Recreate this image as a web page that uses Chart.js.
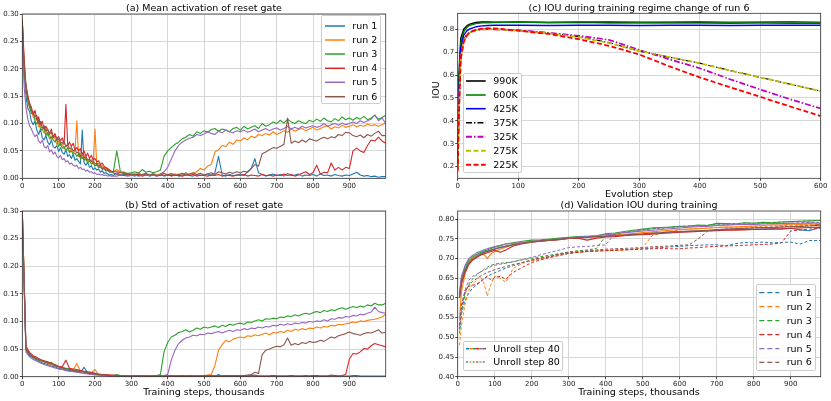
<!DOCTYPE html>
<html><head><meta charset="utf-8">
<script src="https://cdn.jsdelivr.net/npm/chart.js"></script>
<style>
body{margin:0;background:#fff;width:831px;height:401px;overflow:hidden;position:relative;font-family:'DejaVu Sans',sans-serif;color:#000}
.pane{position:absolute}
.pane canvas{display:block}
.t{position:absolute;white-space:nowrap;font-size:9.5px;line-height:1;transform:translate(-50%,-50%)}
.leg{position:absolute;background:rgba(255,255,255,0.85);border:1px solid #cccccc;border-radius:2px;box-sizing:border-box}
.lt{position:absolute;font-size:9.5px;line-height:1;white-space:nowrap;transform:translateY(-50%)}
#hs{position:absolute;left:0;top:0;pointer-events:none}
</style></head><body>
<div class="pane" style="left:0;top:0"><canvas id="ca"></canvas></div>
<div class="pane" style="left:410px;top:0"><canvas id="cc"></canvas></div>
<div class="pane" style="left:0;top:200px"><canvas id="cb"></canvas></div>
<div class="pane" style="left:410px;top:200px"><canvas id="cd"></canvas></div>

<div class="t" style="left:204px;top:7.5px">(a) Mean activation of reset gate</div>
<div class="t" style="left:639px;top:7.5px">(c) IOU during training regime change of run 6</div>
<div class="t" style="left:204px;top:205px">(b) Std of activation of reset gate</div>
<div class="t" style="left:639px;top:205px">(d) Validation IOU during training</div>
<div class="t" style="left:639px;top:194.3px">Evolution step</div>
<div class="t" style="left:435.7px;top:90px;transform:translate(-50%,-50%) rotate(-90deg)">IOU</div>
<div class="t" style="left:204px;top:392.3px">Training steps, thousands</div>
<div class="t" style="left:639px;top:391.7px">Training steps, thousands</div>
<div id="legs"></div>
<svg id="hs" width="831" height="401"></svg>

<script>
// ---------- data ----------
const RUNS = ['run 1','run 2','run 3','run 4','run 5','run 6'];

// (a) mean activation of reset gate (5k spacing up to 250k, then 10k)
const MEAN_STEPS = [0,5,10,15,20,25,30,35,40,45,50,55,60,65,70,75,80,85,90,95,100,105,110,115,120,125,130,135,140,145,150,155,160,165,170,175,180,185,190,195,200,205,210,215,220,225,230,235,240,245,250,
 260,270,280,290,300,310,320,330,340,350,360,370,380,390,400,410,420,430,440,450,460,470,480,490,500,510,520,530,540,550,560,570,580,590,600,610,620,630,640,650,660,670,680,690,700,710,720,730,740,750,760,770,780,790,800,810,820,830,840,850,860,870,880,890,900,910,920,930,940,950,960,970,980,990,1000];
const meanRun1 = [0.290,0.190,0.152,0.128,0.122,0.104,0.098,0.104,0.088,0.080, 0.090,0.074,0.070,0.078,0.066,0.061,0.070,0.058,0.055,0.060, 0.049,0.056,0.047,0.044,0.052,0.040,0.043,0.036,0.044,0.033, 0.036,0.031,0.026,0.088,0.028,0.024,0.029,0.020,0.023,0.016, 0.019,0.015,0.017,0.011,0.014,0.009,0.010,0.008,0.006,0.007, 0.005,
 0.010,0.006,0.007,0.005, 0.006,0.004,0.007,0.005,0.008,0.004,0.006,0.005,0.007,0.004, 0.006,0.005,0.008,0.004,0.006,0.010,0.005,0.004,0.007,0.005, 0.006,0.008,0.005,0.010,0.040,0.006,0.004,0.007,0.005,0.006, 0.008,0.005,0.012,0.018,0.036,0.010,0.007,0.004,0.006,0.008, 0.005,0.007,0.004,0.009,0.005,0.006,0.008,0.004,0.006,0.005, 0.007,0.004,0.008,0.005,0.006,0.004,0.007,0.005,0.004,0.006, 0.005,0.008,0.011,0.006,0.004,0.005,0.003,0.004,0.002,0.003, 0.003];
const meanRun2 = [0.285,0.212,0.162,0.150,0.128,0.126,0.112,0.108,0.110,0.094, 0.096,0.090,0.082,0.091,0.078,0.080,0.070,0.076,0.072,0.062, 0.068,0.060,0.064,0.054,0.060,0.056,0.048,0.054,0.046,0.050, 0.105,0.040,0.046,0.036,0.042,0.033,0.035,0.031,0.034,0.026, 0.090,0.024,0.028,0.020,0.024,0.017,0.020,0.014,0.016,0.011, 0.012,
 0.016,0.011,0.012,0.008, 0.009,0.007,0.010,0.006,0.008,0.005,0.009,0.006,0.008,0.005, 0.007,0.009,0.006,0.008,0.005,0.010,0.007,0.009,0.012,0.018, 0.015,0.022,0.025,0.048,0.052,0.060,0.058,0.066,0.062,0.070, 0.068,0.074,0.070,0.077,0.074,0.080,0.078,0.082,0.079,0.085, 0.080,0.083,0.087,0.084,0.090,0.086,0.089,0.091,0.087,0.090, 0.093,0.088,0.091,0.094,0.096,0.090,0.094,0.092,0.097,0.093, 0.095,0.098,0.094,0.097,0.095,0.099,0.096,0.098,0.095,0.098, 0.101];
const meanRun3 = [0.288,0.198,0.168,0.140,0.130,0.118,0.122,0.104,0.099,0.108, 0.090,0.088,0.093,0.078,0.084,0.072,0.076,0.070,0.066,0.072, 0.058,0.064,0.055,0.058,0.050,0.056,0.047,0.050,0.044,0.046, 0.040,0.044,0.036,0.038,0.033,0.036,0.028,0.032,0.026,0.028, 0.022,0.026,0.019,0.021,0.016,0.018,0.013,0.015,0.011,0.012, 0.010,
 0.050,0.012,0.010,0.009, 0.010,0.012,0.009,0.016,0.011,0.013,0.010,0.012,0.015,0.040, 0.050,0.056,0.062,0.066,0.072,0.075,0.080,0.077,0.085,0.082, 0.087,0.084,0.089,0.091,0.086,0.090,0.088,0.085,0.091,0.093, 0.088,0.095,0.090,0.093,0.096,0.091,0.100,0.095,0.098,0.103, 0.100,0.106,0.101,0.108,0.103,0.100,0.105,0.102,0.100,0.106, 0.103,0.108,0.104,0.110,0.105,0.103,0.109,0.105,0.112,0.107, 0.110,0.106,0.111,0.108,0.113,0.107,0.110,0.115,0.108,0.111, 0.115];
const meanRun4 = [0.290,0.220,0.170,0.152,0.136,0.130,0.116,0.124,0.106,0.112, 0.098,0.104,0.090,0.095,0.088,0.082,0.090,0.075,0.082,0.072, 0.076,0.068,0.074,0.062,0.135,0.060,0.066,0.058,0.064,0.052, 0.056,0.050,0.054,0.044,0.050,0.040,0.046,0.036,0.042,0.034, 0.036,0.030,0.032,0.025,0.028,0.022,0.020,0.018,0.015,0.013, 0.012,
 0.012,0.010,0.009,0.007, 0.006,0.005,0.007,0.004,0.006,0.005,0.007,0.004,0.006,0.005, 0.007,0.004,0.006,0.005,0.004,0.006,0.005,0.007,0.004,0.006, 0.005,0.004,0.006,0.005,0.007,0.004,0.006,0.005,0.004,0.006, 0.005,0.007,0.004,0.006,0.005,0.004,0.007,0.005,0.006,0.004, 0.006,0.005,0.008,0.005,0.007,0.004,0.006,0.009,0.012,0.007, 0.010,0.024,0.008,0.011,0.010,0.028,0.015,0.020,0.015,0.020, 0.018,0.050,0.055,0.050,0.047,0.060,0.070,0.068,0.075,0.068, 0.064];
const meanRun5 = [0.250,0.168,0.130,0.108,0.096,0.090,0.082,0.076,0.080,0.068, 0.064,0.070,0.058,0.055,0.060,0.048,0.052,0.044,0.048,0.040, 0.037,0.042,0.034,0.036,0.030,0.032,0.026,0.028,0.024,0.022, 0.024,0.018,0.020,0.016,0.017,0.013,0.015,0.011,0.012,0.009, 0.010,0.007,0.008,0.006,0.007,0.005,0.006,0.004,0.005,0.004, 0.004,
 0.004,0.006,0.005,0.004, 0.005,0.006,0.004,0.005,0.007,0.005,0.006,0.004,0.008,0.012, 0.020,0.035,0.050,0.060,0.066,0.070,0.073,0.075,0.080,0.078, 0.081,0.085,0.082,0.080,0.086,0.083,0.088,0.085,0.083,0.087, 0.085,0.088,0.084,0.087,0.090,0.085,0.088,0.091,0.087,0.090, 0.092,0.088,0.091,0.095,0.090,0.093,0.090,0.095,0.092,0.094, 0.096,0.093,0.095,0.100,0.095,0.098,0.100,0.097,0.101,0.098, 0.100,0.103,0.100,0.105,0.102,0.105,0.108,0.116,0.105,0.110, 0.100];
const meanRun6 = [0.280,0.206,0.170,0.146,0.138,0.124,0.120,0.112,0.115,0.100, 0.104,0.092,0.096,0.086,0.090,0.080,0.084,0.074,0.078,0.070, 0.072,0.066,0.064,0.068,0.058,0.062,0.054,0.056,0.050,0.052, 0.046,0.048,0.040,0.043,0.037,0.040,0.033,0.035,0.030,0.032, 0.026,0.028,0.022,0.024,0.018,0.020,0.015,0.016,0.012,0.013, 0.010,
 0.007,0.006,0.005,0.008, 0.006,0.008,0.005,0.007,0.009,0.006,0.008,0.005,0.007,0.009, 0.006,0.008,0.005,0.007,0.009,0.006,0.008,0.010,0.007,0.009, 0.006,0.008,0.010,0.007,0.012,0.010,0.008,0.011,0.009,0.012, 0.010,0.013,0.011,0.018,0.025,0.022,0.045,0.048,0.052,0.056, 0.055,0.058,0.062,0.110,0.064,0.068,0.065,0.070,0.066,0.072, 0.070,0.068,0.072,0.075,0.072,0.076,0.074,0.080,0.078,0.084, 0.083,0.078,0.076,0.079,0.074,0.080,0.077,0.082,0.086,0.078, 0.078];

// (b) std of activation of reset gate (10k spacing)
const STD_STEPS = [0,10,20,30,40,50,60,70,80,90,100,110,120,130,140,150,160,170,180,190,200,210,220,230,240,250,260,270,280,290,300,310,320,330,340,350,360,370,380,390,400,410,420,430,440,450,460,470,480,490,500,510,520,530,540,550,560,570,580,590,600,610,620,630,640,650,660,670,680,690,700,710,720,730,740,750,760,770,780,790,800,810,820,830,840,850,860,870,880,890,900,910,920,930,940,950,960,970,980,990,1000];
const stdRun1 = [0.275,0.048,0.038,0.034,0.030,0.026,0.024,0.022,0.019,0.018, 0.015,0.014,0.012,0.011,0.010,0.009,0.008,0.017,0.006,0.005, 0.004,0.003,0.003,0.002,0.002,0.002,0.001,0.001,0.001,0.001, 0.001,0.001,0.002,0.001,0.001,0.001,0.002,0.001,0.001,0.001, 0.001,0.002,0.001,0.001,0.001,0.001,0.002,0.001,0.001,0.001, 0.001,0.001,0.002,0.001,0.004,0.001,0.001,0.001,0.002,0.001, 0.001,0.001,0.001,0.002,0.003,0.001,0.001,0.001,0.001,0.002, 0.001,0.001,0.001,0.001,0.002,0.001,0.001,0.001,0.001,0.001, 0.002,0.001,0.001,0.001,0.001,0.001,0.002,0.001,0.001,0.001, 0.001,0.002,0.002,0.001,0.001,0.001,0.001,0.001,0.001,0.001, 0.001];
const stdRun2 = [0.300,0.052,0.042,0.036,0.032,0.029,0.026,0.024,0.021,0.020, 0.017,0.016,0.015,0.013,0.012,0.024,0.010,0.009,0.008,0.007, 0.013,0.004,0.004,0.003,0.003,0.002,0.002,0.002,0.001,0.001, 0.001,0.001,0.002,0.001,0.001,0.001,0.001,0.002,0.001,0.001, 0.001,0.001,0.001,0.002,0.001,0.001,0.001,0.001,0.002,0.001, 0.002,0.003,0.004,0.020,0.048,0.058,0.066,0.063,0.068,0.070, 0.072,0.070,0.074,0.073,0.076,0.074,0.077,0.079,0.076,0.080, 0.079,0.082,0.080,0.084,0.082,0.086,0.084,0.087,0.085,0.088, 0.087,0.090,0.088,0.091,0.090,0.093,0.092,0.095,0.094,0.096, 0.097,0.099,0.098,0.101,0.100,0.102,0.103,0.104,0.106,0.108, 0.113];
const stdRun3 = [0.300,0.050,0.040,0.036,0.031,0.029,0.027,0.025,0.026,0.020, 0.018,0.017,0.015,0.014,0.012,0.011,0.010,0.009,0.007,0.006, 0.005,0.004,0.003,0.003,0.002,0.002,0.004,0.002,0.001,0.001, 0.001,0.002,0.001,0.001,0.002,0.001,0.001,0.002,0.004,0.045, 0.062,0.072,0.075,0.080,0.082,0.085,0.081,0.084,0.088,0.086, 0.090,0.088,0.090,0.092,0.089,0.093,0.091,0.095,0.093,0.096, 0.097,0.095,0.099,0.098,0.101,0.103,0.101,0.105,0.104,0.106, 0.105,0.108,0.107,0.110,0.109,0.112,0.110,0.113,0.115,0.113, 0.116,0.118,0.116,0.120,0.118,0.121,0.120,0.123,0.125,0.122, 0.125,0.127,0.125,0.128,0.126,0.130,0.128,0.133,0.130,0.130, 0.133];
const stdRun4 = [0.300,0.055,0.044,0.038,0.035,0.031,0.029,0.027,0.024,0.022, 0.019,0.018,0.030,0.015,0.014,0.013,0.011,0.010,0.009,0.008, 0.006,0.005,0.004,0.004,0.003,0.003,0.002,0.002,0.002,0.001, 0.001,0.001,0.001,0.002,0.001,0.001,0.001,0.001,0.002,0.001, 0.001,0.001,0.001,0.001,0.002,0.001,0.001,0.001,0.001,0.001, 0.002,0.001,0.001,0.001,0.001,0.001,0.002,0.001,0.001,0.001, 0.001,0.001,0.001,0.002,0.001,0.001,0.001,0.001,0.001,0.002, 0.001,0.001,0.001,0.001,0.002,0.001,0.001,0.001,0.002,0.001, 0.001,0.002,0.001,0.001,0.001,0.003,0.002,0.001,0.002,0.004, 0.032,0.042,0.041,0.045,0.051,0.050,0.056,0.060,0.058,0.056, 0.054];
const stdRun5 = [0.290,0.045,0.036,0.031,0.028,0.025,0.022,0.020,0.018,0.016, 0.014,0.013,0.011,0.010,0.009,0.008,0.007,0.006,0.005,0.004, 0.003,0.003,0.002,0.002,0.001,0.001,0.001,0.001,0.001,0.001, 0.001,0.001,0.001,0.001,0.001,0.002,0.001,0.001,0.001,0.002, 0.004,0.030,0.048,0.060,0.066,0.070,0.072,0.075,0.074,0.077, 0.076,0.079,0.078,0.080,0.082,0.079,0.082,0.084,0.082,0.085, 0.084,0.087,0.085,0.088,0.087,0.090,0.088,0.091,0.090,0.093, 0.092,0.095,0.093,0.096,0.094,0.097,0.096,0.098,0.097,0.100, 0.099,0.101,0.100,0.103,0.101,0.105,0.104,0.107,0.106,0.109, 0.108,0.111,0.110,0.113,0.112,0.115,0.117,0.126,0.118,0.116, 0.115];
const stdRun6 = [0.300,0.050,0.041,0.036,0.033,0.030,0.028,0.025,0.023,0.021, 0.018,0.016,0.014,0.013,0.011,0.010,0.009,0.008,0.007,0.006, 0.005,0.004,0.003,0.003,0.002,0.002,0.002,0.001,0.001,0.001, 0.001,0.001,0.002,0.001,0.001,0.001,0.001,0.002,0.001,0.001, 0.001,0.002,0.001,0.001,0.001,0.001,0.002,0.001,0.001,0.001, 0.001,0.002,0.001,0.001,0.002,0.001,0.001,0.002,0.001,0.002, 0.002,0.002,0.003,0.004,0.008,0.006,0.040,0.048,0.050,0.053, 0.055,0.054,0.058,0.070,0.057,0.060,0.058,0.062,0.060,0.064, 0.062,0.063,0.066,0.064,0.068,0.072,0.070,0.074,0.076,0.078, 0.081,0.078,0.077,0.075,0.078,0.080,0.079,0.082,0.085,0.079, 0.080];

// (c) IOU during training regime change of run 6
const EVO_STEPS = [0,2,5,10,15,20,30,40,50,60,80,100,150,200,250,300,350,400,450,500,550,600];
const CKPTS = ['990K','600K','425K','375K','325K','275K','225K'];
const iou990K = [0.25,0.60,0.76,0.80,0.815,0.823,0.830,0.832,0.832,0.831,0.831,0.832,0.830,0.831,0.829,0.830,0.828,0.829,0.827,0.828,0.827,0.827];
const iou600K = [0.23,0.56,0.74,0.79,0.808,0.818,0.825,0.828,0.829,0.830,0.831,0.832,0.830,0.832,0.833,0.831,0.832,0.833,0.831,0.832,0.833,0.831];
const iou425K = [0.22,0.52,0.72,0.775,0.793,0.802,0.811,0.815,0.817,0.818,0.818,0.818,0.817,0.818,0.818,0.817,0.818,0.818,0.817,0.818,0.818,0.818];
const iou375K = [0.20,0.46,0.69,0.755,0.777,0.788,0.797,0.800,0.801,0.801,0.799,0.796,0.784,0.768,0.742,0.705,0.678,0.652,0.620,0.590,0.560,0.530];
const iou325K = [0.20,0.45,0.68,0.750,0.774,0.786,0.796,0.800,0.801,0.800,0.798,0.795,0.785,0.772,0.754,0.710,0.669,0.630,0.582,0.537,0.494,0.454];
const iou275K = [0.19,0.44,0.675,0.748,0.774,0.786,0.796,0.800,0.800,0.800,0.797,0.793,0.782,0.766,0.740,0.706,0.679,0.652,0.620,0.590,0.560,0.530];
const iou225K = [0.18,0.42,0.67,0.745,0.773,0.787,0.798,0.803,0.805,0.804,0.800,0.794,0.780,0.757,0.728,0.690,0.638,0.590,0.547,0.505,0.462,0.421];

// (d) validation IOU during training
const VAL_STEPS = [5,10,20,30,40,50,60,70,80,90,100,115,130,150,175,200,225,250,275,300,325,350,375,400,425,450,475,500,525,550,575,600,625,650,675,700,725,750,775,800,825,850,875,900,925,950,980];
const unroll40Run1 = [.600,.640,.672,.690,.700,.706,.712,.716,.719,.722, .725,.729,.732,.736,.739,.743,.745,.747,.749,.752, .753,.755,.756,.757,.758,.760,.761,.762,.764,.765, .767,.768,.769,.770,.771,.772,.773,.774,.775,.774, .775,.776,.775,.777,.773,.771,.780];
const unroll40Run2 = [.550,.615,.662,.688,.700,.706,.710,.712,.700,.712, .718,.724,.729,.735,.740,.744,.745,.748,.750,.752, .754,.755,.757,.758,.760,.762,.764,.766,.768,.770, .772,.774,.775,.776,.777,.779,.780,.780,.782,.783, .784,.786,.785,.788,.787,.789,.786];
const unroll40Run3 = [.610,.650,.678,.695,.704,.710,.715,.719,.722,.726, .729,.733,.737,.740,.744,.747,.748,.750,.752,.754, .756,.757,.758,.763,.765,.769,.772,.775,.778,.779, .780,.782,.783,.785,.784,.790,.789,.788,.791,.790, .792,.791,.793,.794,.795,.796,.797];
const unroll40Run4 = [.600,.635,.665,.685,.696,.702,.708,.712,.715,.718, .721,.716,.722,.732,.738,.742,.744,.746,.748,.751, .752,.747,.752,.755,.756,.758,.760,.761,.762,.764, .765,.767,.768,.769,.770,.771,.772,.772,.773,.774, .775,.775,.776,.777,.778,.779,.780];
const unroll40Run5 = [.615,.655,.683,.700,.708,.714,.718,.722,.725,.728, .731,.734,.737,.739,.741,.744,.746,.748,.750,.753, .755,.756,.758,.761,.763,.766,.768,.770,.772,.774, .776,.778,.780,.781,.782,.784,.785,.786,.787,.787, .788,.789,.789,.790,.790,.791,.790];
const unroll40Run6 = [.600,.640,.670,.688,.698,.704,.709,.714,.718,.721, .724,.728,.731,.735,.739,.742,.745,.747,.749,.751, .753,.754,.756,.757,.759,.760,.762,.763,.765,.766, .768,.769,.770,.771,.772,.774,.775,.776,.777,.778, .779,.779,.780,.781,.782,.783,.785];
const unroll80Run1 = [.520,.560,.595,.612,.625,.632,.640,.648,.655,.660, .664,.670,.676,.682,.690,.695,.700,.705,.710,.714, .716,.718,.720,.721,.722,.723,.724,.725,.727,.728, .730,.731,.733,.734,.735,.735,.733,.738,.741,.740, .742,.740,.741,.742,.737,.746,.746];
const unroll80Run2 = [.480,.530,.585,.620,.635,.645,.655,.640,.605,.635, .655,.650,.640,.675,.688,.695,.700,.705,.710,.714, .716,.718,.720,.720,.721,.722,.724,.728,.758,.765, .769,.773,.775,.777,.778,.779,.780,.780,.781,.782, .782,.783,.784,.785,.786,.787,.789];
const unroll80Run3 = [.510,.560,.610,.635,.648,.658,.665,.672,.678,.683, .686,.688,.690,.692,.697,.701,.705,.709,.713,.717, .720,.722,.726,.758,.762,.766,.770,.773,.776,.778, .780,.782,.783,.784,.785,.787,.788,.789,.790,.790, .791,.792,.793,.794,.795,.796,.797];
const unroll80Run4 = [.530,.580,.620,.630,.632,.635,.640,.648,.655,.645, .652,.655,.648,.665,.678,.690,.697,.703,.708,.713, .716,.718,.719,.720,.721,.722,.723,.724,.725,.726, .725,.725,.727,.728,.730,.731,.732,.733,.734,.735, .736,.737,.740,.770,.773,.775,.777];
const unroll80Run5 = [.520,.570,.620,.645,.655,.660,.665,.670,.675,.680, .683,.686,.688,.692,.698,.703,.710,.716,.722,.728, .730,.731,.733,.735,.763,.767,.770,.773,.775,.777, .779,.781,.782,.783,.784,.785,.786,.787,.787,.788, .789,.789,.790,.790,.791,.792,.792];
const unroll80Run6 = [.530,.580,.615,.632,.642,.648,.655,.660,.665,.668, .672,.676,.680,.685,.690,.697,.702,.706,.711,.715, .718,.720,.722,.724,.725,.726,.727,.728,.730,.731, .732,.734,.735,.750,.770,.772,.775,.776,.777,.778, .779,.780,.781,.782,.783,.784,.786];

// tick values
const X_TICKS_TRAIN = [0,100,200,300,400,500,600,700,800,900];
const Y_TICKS_GATE = [0,0.05,0.10,0.15,0.20,0.25,0.30];
const X_TICKS_EVO = [0,100,200,300,400,500,600];
const Y_TICKS_EVO = [0.2,0.3,0.4,0.5,0.6,0.7,0.8];
const Y_TICKS_VAL = [0.40,0.45,0.50,0.55,0.60,0.65,0.70,0.75,0.80];

// ---------- styling ----------
const TAB = ['#1f77b4','#ff7f0e','#2ca02c','#d62728','#9467bd','#8c564b'];
const GRID = '#d2d2d2';
Chart.defaults.font.family = "'DejaVu Sans', sans-serif";

const frame = {id:'frame', afterDraw(c){const a=c.chartArea,ctx=c.ctx;ctx.save();ctx.strokeStyle='#333';ctx.lineWidth=0.8;ctx.strokeRect(a.left,a.top,a.right-a.left,a.bottom-a.top);ctx.restore();}};
const pts = (xs, ys) => xs.map((x,i)=>({x, y: ys[i]}));

function mk(id, W, H, area, xs, ys, datasets){
  const cv = document.getElementById(id);
  cv.width = W; cv.height = H;
  const tickOpts = (fmt)=>({font:{size:7},color:'#222',padding:1,maxRotation:0,minRotation:0,autoSkip:false,callback:fmt});
  const gridOpts = {color:GRID,lineWidth:0.9,tickLength:2.5,tickColor:'#333'};
  return new Chart(cv, {type:'line', data:{datasets}, options:{
    responsive:false, animation:false,
    layout:{padding:{left:0, top:area.t, right:W-area.r, bottom:0}},
    plugins:{legend:{display:false}, tooltip:{enabled:false}, title:{display:false}},
    elements:{point:{radius:0, hitRadius:0}, line:{tension:0, borderJoinStyle:'round', fill:false}},
    scales:{
      x:{type:'linear', min:xs.min, max:xs.max,
        afterFit(s){s.height = H-area.b;},
        afterBuildTicks(s){s.ticks = xs.ticks.map(v=>({value:v}));},
        ticks:tickOpts(xs.fmt), grid:gridOpts, border:{display:false}},
      y:{type:'linear', min:ys.min, max:ys.max,
        afterFit(s){s.width = area.l;},
        afterBuildTicks(s){s.ticks = ys.ticks.map(v=>({value:v}));},
        ticks:tickOpts(ys.fmt), grid:gridOpts, border:{display:false}}
    }}, plugins:[frame]});
}

const fmtInt = v => String(Math.round(v));
const fmt2 = v => Number(v).toFixed(2);
const fmt1 = v => Number(v).toFixed(1);

const meanSeries = [meanRun1,meanRun2,meanRun3,meanRun4,meanRun5,meanRun6];
const stdSeries = [stdRun1,stdRun2,stdRun3,stdRun4,stdRun5,stdRun6];

mk('ca', 405, 200, {l:22.3, r:385.7, t:14, b:178.3},
  {min:0, max:1000, ticks:X_TICKS_TRAIN, fmt:fmtInt},
  {min:0, max:0.30, ticks:Y_TICKS_GATE, fmt:fmt2},
  meanSeries.map((s,i)=>({label:RUNS[i], data:pts(MEAN_STEPS,s), borderColor:TAB[i], borderWidth:1.1, order:5-i})));

mk('cb', 405, 201, {l:22.3, r:385.7, t:11, b:176.7},
  {min:0, max:1000, ticks:X_TICKS_TRAIN, fmt:fmtInt},
  {min:0, max:0.30, ticks:Y_TICKS_GATE, fmt:fmt2},
  stdSeries.map((s,i)=>({label:RUNS[i], data:pts(STD_STEPS,s), borderColor:TAB[i], borderWidth:1.1, order:5-i})));

const ckSeries = [iou990K,iou600K,iou425K,iou375K,iou325K,iou275K,iou225K];
const ckColor = ['#000000','#008000','#0000ff','#000000','#bf00bf','#bfbf00','#ff0000'];
const ckDash = [[],[],[],[6,2,1.5,2],[6,2,1.5,2],[5,2.5],[5,2.5]];
const ckWidth = [1.4,1.4,1.4,1.2,1.7,1.7,1.8];
mk('cc', 421, 200, {l:47.7, r:410.7, t:13.3, b:178.3},
  {min:0, max:600, ticks:X_TICKS_EVO, fmt:fmtInt},
  {min:0.149, max:0.87, ticks:Y_TICKS_EVO, fmt:fmt1},
  ckSeries.map((s,i)=>({label:CKPTS[i], data:pts(EVO_STEPS,s), borderColor:ckColor[i], borderDash:ckDash[i], borderWidth:ckWidth[i], order:6-i})));

const u40 = [unroll40Run1,unroll40Run2,unroll40Run3,unroll40Run4,unroll40Run5,unroll40Run6];
const u80 = [unroll80Run1,unroll80Run2,unroll80Run3,unroll80Run4,unroll80Run5,unroll80Run6];
const dsD = [];
u40.forEach((s,i)=>{
  dsD.push({label:RUNS[i]+' unroll 40', data:pts(VAL_STEPS,s), borderColor:TAB[i], borderWidth:1.1, order:20-2*i});
  dsD.push({label:RUNS[i]+' unroll 80', data:pts(VAL_STEPS,u80[i]), borderColor:TAB[i], borderWidth:1.0, borderDash:[3,2], order:19-2*i});
});
mk('cd', 421, 201, {l:47.7, r:410.7, t:11, b:176.7},
  {min:0, max:981, ticks:X_TICKS_TRAIN, fmt:fmtInt},
  {min:0.40, max:0.821, ticks:Y_TICKS_VAL, fmt:fmt2},
  dsD);

// ---------- legends ----------
const legs = document.getElementById('legs');
const svg = document.getElementById('hs');
const NS = 'http://www.w3.org/2000/svg';
function line(x1,y,x2,color,w,dash){
  const l = document.createElementNS(NS,'line');
  l.setAttribute('x1',x1); l.setAttribute('x2',x2); l.setAttribute('y1',y); l.setAttribute('y2',y);
  l.setAttribute('stroke',color); l.setAttribute('stroke-width',w);
  if (dash && dash.length) l.setAttribute('stroke-dasharray',dash.join(' '));
  svg.appendChild(l);
}
function legend(box, rows, hx1, hx2, tx){
  const b = document.createElement('div'); b.className='leg';
  Object.assign(b.style,{left:box[0]+'px',top:box[1]+'px',width:box[2]+'px',height:box[3]+'px'});
  legs.appendChild(b);
  rows.forEach(r=>{
    const t = document.createElement('div'); t.className='lt'; t.textContent=r.label;
    Object.assign(t.style,{left:tx+'px',top:r.y+'px'});
    legs.appendChild(t);
    if (r.multi){
      const n = r.multi.length, seg=(hx2-hx1)/n;
      r.multi.forEach((c,k)=>line(hx1+k*seg, r.y, hx1+(k+1)*seg-(r.gap||0), c, r.w, null));
    } else line(hx1, r.y, hx2, r.color, r.w, r.dash);
  });
}
legend([321,15,60,89.3], [26,40,54,68.3,82.3,96.7].map((y,i)=>({label:RUNS[i], y, color:TAB[i], w:1.5})), 325, 345, 352.3);
legend([462.7,72.7,59,100.6], [81,95,108.7,122.7,136.7,150.7,164.7].map((y,i)=>({label:CKPTS[i], y, color:ckColor[i], w:ckWidth[i]+0.2, dash:ckDash[i]})), 466, 485.7, 493.3);
legend([755.7,284.3,60.3,86.4], [292.7,306.7,320.7,334.7,348.7,362.3].map((y,i)=>({label:RUNS[i], y, color:TAB[i], w:1.3, dash:[5,3]})), 759.3, 779.3, 786.7);
legend([462.7,340.7,100,30], [
  {label:'Unroll step 40', y:348.7, multi:TAB, w:1.5},
  {label:'Unroll step 80', y:362, multi:TAB, w:1.2, gap:1.2}
], 466, 486, 493.3);
</script>
</body></html>
